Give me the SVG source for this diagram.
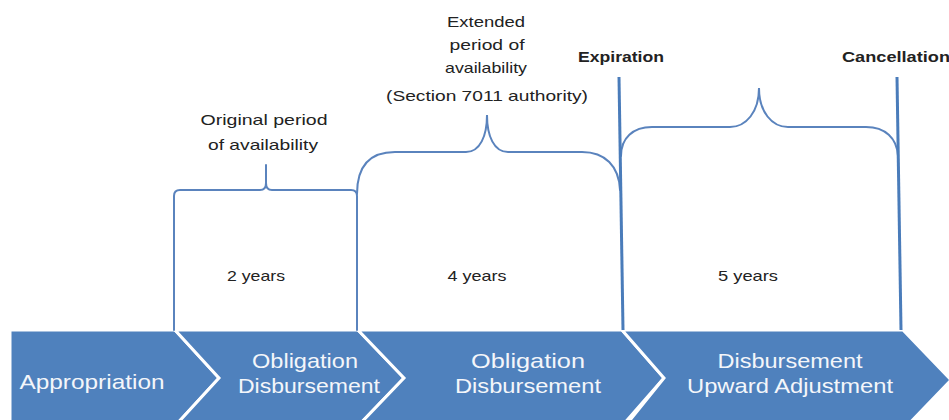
<svg xmlns="http://www.w3.org/2000/svg" width="949" height="420" viewBox="0 0 949 420">
  <style>
    .chev { fill: #4f81bd; stroke: #ffffff; stroke-width: 3; stroke-linejoin: miter; }
    .brace { fill: none; stroke: #5a83bd; stroke-width: 2; stroke-linecap: round; }
    .mark { fill: none; stroke: #4a7cba; stroke-width: 3; }
    .lbl { font-family: "Liberation Sans", Arial, sans-serif; font-size: 15px; fill: #222222; text-anchor: middle; }
    .bold { font-weight: bold; font-size: 14px; }
    .step { font-family: "Liberation Sans", Arial, sans-serif; font-size: 21px; fill: #f4f6fa; text-anchor: middle; }
  </style>

  <rect width="949" height="420" fill="#ffffff"/>

  <!-- Process chevrons -->
  <g id="appropriation">
    <polygon class="chev" points="10,330 175,330 219,378 175,426 10,426"/>
    <text class="step" x="92" y="389" textLength="145" lengthAdjust="spacingAndGlyphs">Appropriation</text>
  </g>
  <g id="obligation-1">
    <polygon class="chev" points="175,330 358,330 404,378 358,426 175,426 219,378"/>
    <text class="step" x="305" y="368" textLength="106" lengthAdjust="spacingAndGlyphs">Obligation</text>
    <text class="step" x="309" y="393" textLength="142" lengthAdjust="spacingAndGlyphs">Disbursement</text>
  </g>
  <g id="obligation-2">
    <polygon class="chev" points="358,330 622,330 664,378 622,426 358,426 404,378"/>
    <text class="step" x="528" y="368" textLength="114" lengthAdjust="spacingAndGlyphs">Obligation</text>
    <text class="step" x="528" y="393" textLength="146" lengthAdjust="spacingAndGlyphs">Disbursement</text>
  </g>
  <g id="disbursement">
    <polygon class="chev" points="622,330 903,330 951,380 903,430 622,430 664,378"/>
    <text class="step" x="790" y="368" textLength="145" lengthAdjust="spacingAndGlyphs">Disbursement</text>
    <text class="step" x="790" y="393" textLength="206" lengthAdjust="spacingAndGlyphs">Upward Adjustment</text>
  </g>

  <!-- Period braces and milestone lines -->
  <g id="connectors">
    <path class="brace" d="M174,330 V196 Q174,190 180,190 H260 Q266,190 266,183 V165 M266,183 Q266,190 272,190 H351 Q357,190 357,196 V330"/>
    <path class="brace" d="M357,194 C357,166 370,152 395,152 H466 C480,152 487,136 487,115 C487,136 494,152 508,152 H582 C605,152 619,166 620,190"/>
    <path class="brace" d="M621,156 C621,138 633,127 652,127 H730 C746,127 759,112 759,88 C759,112 772,127 788,127 H866 C885,127 897,138 898,156"/>
    <path class="mark" d="M619,77 L623,330"/>
    <path class="mark" d="M897,77 L901,330"/>
  </g>

  <!-- Period labels -->
  <g id="original-period">
    <text class="lbl" x="264" y="125" textLength="127" lengthAdjust="spacingAndGlyphs">Original period</text>
    <text class="lbl" x="263" y="150" textLength="110" lengthAdjust="spacingAndGlyphs">of availability</text>
    <text class="lbl" x="256" y="281" textLength="58" lengthAdjust="spacingAndGlyphs">2 years</text>
  </g>
  <g id="extended-period">
    <text class="lbl" x="486" y="27" textLength="78" lengthAdjust="spacingAndGlyphs">Extended</text>
    <text class="lbl" x="487" y="50" textLength="75" lengthAdjust="spacingAndGlyphs">period of</text>
    <text class="lbl" x="486" y="73" textLength="82" lengthAdjust="spacingAndGlyphs">availability</text>
    <text class="lbl" x="487" y="101" textLength="202" lengthAdjust="spacingAndGlyphs">(Section 7011 authority)</text>
    <text class="lbl" x="477" y="281" textLength="59" lengthAdjust="spacingAndGlyphs">4 years</text>
  </g>
  <g id="expired-period">
    <text class="lbl bold" x="621" y="62" textLength="86" lengthAdjust="spacingAndGlyphs">Expiration</text>
    <text class="lbl bold" x="896" y="62" textLength="108" lengthAdjust="spacingAndGlyphs">Cancellation</text>
    <text class="lbl" x="748" y="281" textLength="60" lengthAdjust="spacingAndGlyphs">5 years</text>
  </g>
</svg>
